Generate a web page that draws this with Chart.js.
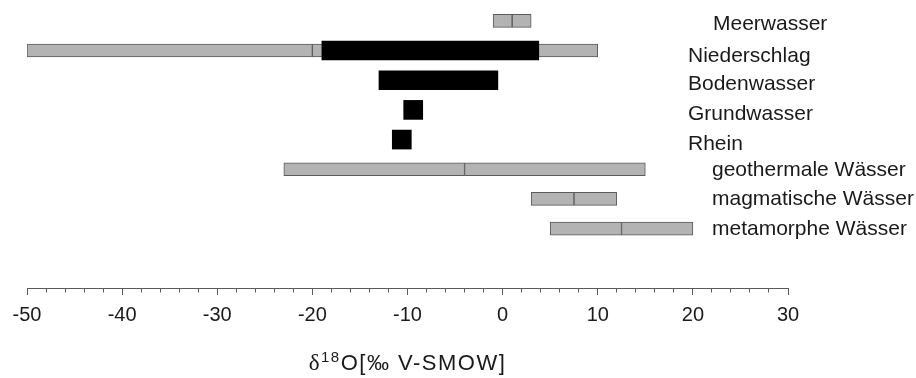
<!DOCTYPE html>
<html>
<head>
<meta charset="utf-8">
<script src="https://cdn.jsdelivr.net/npm/chart.js@4"></script>
<style>
  html, body { margin: 0; padding: 0; background: #fff; }
  #wrap { width: 916px; height: 378px; }
</style>
</head>
<body>
<div id="wrap"><canvas id="isoChart"></canvas></div>
<script>
const categories = ["Meerwasser", "Niederschlag", "Bodenwasser", "Grundwasser", "Rhein",
  "geothermale Wässer", "magmatische Wässer", "metamorphe Wässer"];
// grey total range, split at the middle mark (null = no grey bar)
const rangeLow  = [-1, -50, null, null, null, -23, 3, 5];
const rangeMid  = [1, -20, null, null, null, -4, 7.5, 12.5];
const rangeHigh = [3, 10, null, null, null, 15, 12, 20];
// black core range
const coreLow  = [null, -19, -13, -10.4, -11.6, null, null, null];
const coreHigh = [null, 3.8, -0.5, -8.4, -9.6, null, null, null];
const xTicks = [-50, -40, -30, -20, -10, 0, 10, 20, 30];

// label layout: indent in px from the label column, baseline drop from bar centre
const labelIndent = [25, 0, 0, 0, 0, 24, 24, 24];
const labelDrop = [9.5, 11, 10, 10.5, 10.5, 6.5, 6.5, 6.5];

const FONT = '"Liberation Sans", Arial, sans-serif';

function pairs(lo, hi) {
  return categories
    .map((c, i) => (lo[i] == null ? null : { x: [lo[i], hi[i]], y: i }))
    .filter(Boolean);
}

const greyStyle = {
  backgroundColor: "#b3b3b3",
  borderColor: "#5a5a5a",
  borderWidth: 1,
  borderSkipped: false,
  barThickness: 13,
  grouped: false,
  order: 1,
};

const rowLabels = {
  id: "rowLabels",
  afterDraw(chart) {
    const { ctx, chartArea, scales } = chart;
    ctx.save();
    ctx.font = "21px " + FONT;
    ctx.fillStyle = "#1a1a1a";
    ctx.textAlign = "left";
    ctx.textBaseline = "alphabetic";
    categories.forEach((c, i) => {
      ctx.fillText(c, chartArea.right - 100 + labelIndent[i], scales.y.getPixelForValue(i) + labelDrop[i]);
    });
    ctx.restore();
  },
};

// axis title with superscript 18
const axisTitle = {
  id: "axisTitle",
  afterDraw(chart) {
    const { ctx, scales } = chart;
    const x = scales.x;
    const parts = [
      { t: "\u03b4", f: "23px \"Liberation Serif\", serif", dy: 0 },
      { t: "18", f: "15px " + FONT, dy: -8 },
      { t: "O[\u2030 V-SMOW]", f: "22px " + FONT, dy: 0 },
    ];
    ctx.save();
    ctx.fillStyle = "#1a1a1a";
    ctx.textBaseline = "alphabetic";
    ctx.letterSpacing = "1.5px";
    let total = 0;
    parts.forEach((p) => { ctx.font = p.f; p.w = ctx.measureText(p.t).width; total += p.w; });
    let cx = (x.left + x.right) / 2 - total / 2;
    const base = 370;
    parts.forEach((p) => {
      ctx.font = p.f;
      ctx.fillText(p.t, cx, base + p.dy);
      cx += p.w;
    });
    ctx.restore();
  },
};

new Chart(document.getElementById("isoChart"), {
  type: "bar",
  data: {
    datasets: [
      {
        label: "Kernbereich",
        data: pairs(coreLow, coreHigh),
        backgroundColor: "#000",
        borderWidth: 0,
        barThickness: 19,
        grouped: false,
        order: 0,
      },
      { label: "Bereich unten", data: pairs(rangeLow, rangeMid), ...greyStyle },
      { label: "Bereich oben", data: pairs(rangeMid, rangeHigh), ...greyStyle },
    ],
  },
  options: {
    indexAxis: "y",
    responsive: true,
    maintainAspectRatio: false,
    animation: false,
    layout: { padding: { left: 27, right: 128, top: 6, bottom: 0 } },
    plugins: {
      legend: { display: false },
      tooltip: { enabled: false },
    },
    scales: {
      y: {
        type: "linear",
        reverse: true,
        offset: false,
        min: -0.5,
        max: 9,
        display: false,
      },
      x: {
        type: "linear",
        min: -50,
        max: 30,
        afterFit(scale) { scale.height = 90; },
        border: { display: true, color: "#5a5a5a", width: 1 },
        grid: {
          drawOnChartArea: false,
          drawTicks: true,
          tickLength: 7,
          tickColor: "#5a5a5a",
          tickWidth: 1,
          tickBorderDash: (ctx) => (ctx.tick && xTicks.includes(ctx.tick.value) ? [] : [3.5, 20]),
        },
        ticks: {
          stepSize: 2,
          autoSkip: false,
          maxRotation: 0,
          padding: 8,
          color: "#1a1a1a",
          font: { family: FONT, size: 20 },
          callback: (v) => (xTicks.includes(v) ? String(v) : ""),
        },
      },
    },
  },
  plugins: [rowLabels, axisTitle],
});
</script>
</body>
</html>
